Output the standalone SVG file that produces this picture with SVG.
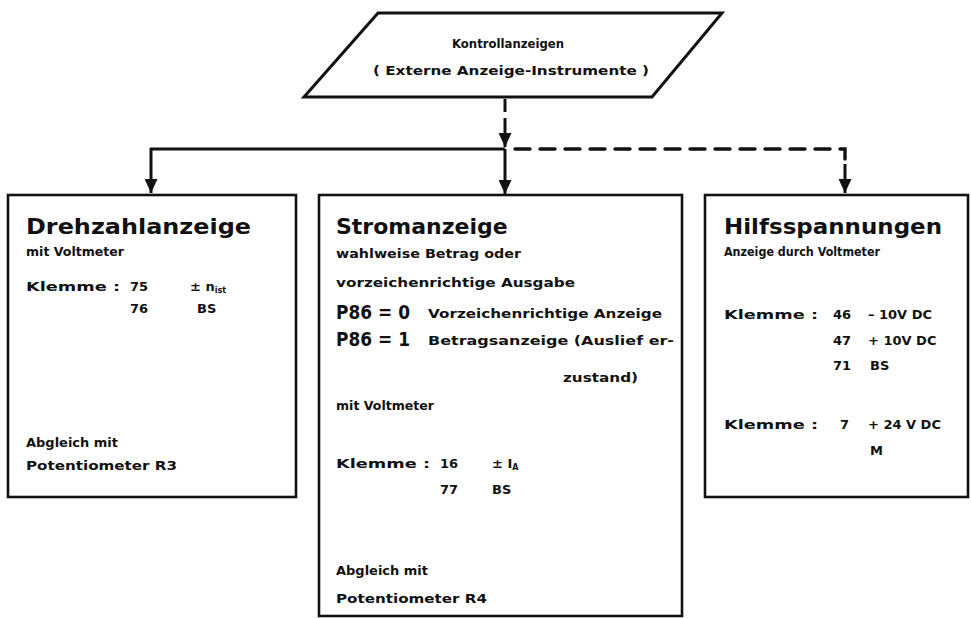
<svg xmlns="http://www.w3.org/2000/svg" width="971" height="618" viewBox="0 0 971 618">
  <style>
    .box { fill: #ffffff; stroke: #111; stroke-width: 2.6; }
    .wire { fill: none; stroke: #111; stroke-width: 3; }
    .dash { fill: none; stroke: #111; stroke-width: 3.4; stroke-dasharray: 15 10; stroke-linecap: round; }
    text { font-family: "DejaVu Sans", "Liberation Sans", sans-serif; font-weight: bold; fill: #111; }
    .t { font-size: 22px; }
    .s { font-size: 13px; }
    .k { font-size: 13px; }
    .p { font-size: 20px; }
    .sub { font-size: 8px; }
    .c { text-anchor: middle; }
  </style>
  <defs>
    <marker id="arr" markerWidth="14" markerHeight="13" refX="14" refY="6.5" orient="auto" markerUnits="userSpaceOnUse">
      <path d="M0,0 L14,6.5 L0,13 Z" fill="#111"/>
    </marker>
  </defs>
  <rect width="971" height="618" fill="#ffffff"/>

  <!-- connectors -->
  <g id="connectors">
    <line class="wire" x1="505" y1="99" x2="505" y2="112"/>
    <line class="wire" x1="505" y1="118" x2="505" y2="147" marker-end="url(#arr)"/>
    <line class="wire" x1="150" y1="149" x2="505" y2="149"/>
    <line class="wire" x1="151" y1="148" x2="151" y2="193" marker-end="url(#arr)"/>
    <line class="wire" x1="505" y1="149" x2="505" y2="194" marker-end="url(#arr)"/>
    <path class="dash" d="M515,149 H845 V160"/>
    <line class="wire" x1="845" y1="164" x2="845" y2="193" marker-end="url(#arr)"/>
  </g>

  <!-- source: parallelogram -->
  <g id="kontrollanzeigen">
    <polygon points="378,13 722,13 652,97 304,97" fill="#ffffff" stroke="#111" stroke-width="3"/>
    <text class="s c" x="508" y="48" textLength="112" lengthAdjust="spacingAndGlyphs">Kontrollanzeigen</text>
    <text class="s c" x="511" y="75" textLength="276" lengthAdjust="spacingAndGlyphs">( Externe Anzeige-Instrumente )</text>
  </g>

  <!-- speed display -->
  <g id="drehzahlanzeige">
    <rect class="box" x="8" y="195" width="288" height="302"/>
    <text class="t" x="26" y="234" textLength="225" lengthAdjust="spacingAndGlyphs">Drehzahlanzeige</text>
    <text class="s" x="26" y="256" textLength="98" lengthAdjust="spacingAndGlyphs">mit Voltmeter</text>
    <text class="k" x="26" y="291" textLength="94" lengthAdjust="spacingAndGlyphs">Klemme :</text>
    <text class="k" x="130" y="291">75</text>
    <text class="k" x="190" y="291">± n<tspan class="sub" dy="2">ist</tspan></text>
    <text class="k" x="130" y="313">76</text>
    <text class="k" x="197" y="313">BS</text>
    <text class="s" x="26" y="447" textLength="92" lengthAdjust="spacingAndGlyphs">Abgleich mit</text>
    <text class="s" x="26" y="470" textLength="151" lengthAdjust="spacingAndGlyphs">Potentiometer R3</text>
  </g>

  <!-- current display -->
  <g id="stromanzeige">
    <rect class="box" x="319" y="195" width="363" height="421"/>
    <text class="t" x="336" y="234">Stromanzeige</text>
    <text class="s" x="336" y="258" textLength="185" lengthAdjust="spacingAndGlyphs">wahlweise Betrag oder</text>
    <text class="s" x="336" y="287" textLength="239" lengthAdjust="spacingAndGlyphs">vorzeichenrichtige Ausgabe</text>
    <text class="p" x="336" y="319" textLength="74" lengthAdjust="spacingAndGlyphs">P86 = 0</text>
    <text class="s" x="428" y="318" textLength="234" lengthAdjust="spacingAndGlyphs">Vorzeichenrichtige Anzeige</text>
    <text class="p" x="336" y="346" textLength="74" lengthAdjust="spacingAndGlyphs">P86 = 1</text>
    <text class="s" x="428" y="345" textLength="246" lengthAdjust="spacingAndGlyphs">Betragsanzeige (Auslief er-</text>
    <text class="s" x="563" y="382" textLength="75" lengthAdjust="spacingAndGlyphs">zustand)</text>
    <text class="s" x="336" y="410" textLength="98" lengthAdjust="spacingAndGlyphs">mit Voltmeter</text>
    <text class="k" x="336" y="468" textLength="94" lengthAdjust="spacingAndGlyphs">Klemme :</text>
    <text class="k" x="440" y="468">16</text>
    <text class="k" x="492" y="468">± I<tspan class="sub" dy="2">A</tspan></text>
    <text class="k" x="440" y="494">77</text>
    <text class="k" x="492" y="494">BS</text>
    <text class="s" x="336" y="575" textLength="92" lengthAdjust="spacingAndGlyphs">Abgleich mit</text>
    <text class="s" x="336" y="603" textLength="151" lengthAdjust="spacingAndGlyphs">Potentiometer R4</text>
  </g>

  <!-- auxiliary voltages -->
  <g id="hilfsspannungen">
    <rect class="box" x="705" y="195" width="263" height="302"/>
    <text class="t" x="724" y="234" textLength="218" lengthAdjust="spacingAndGlyphs">Hilfsspannungen</text>
    <text class="s" x="724" y="256" textLength="156" lengthAdjust="spacingAndGlyphs">Anzeige durch Voltmeter</text>
    <text class="k" x="724" y="319" textLength="94" lengthAdjust="spacingAndGlyphs">Klemme :</text>
    <text class="k" x="833" y="319">46</text>
    <text class="k" x="868" y="319">– 10V DC</text>
    <text class="k" x="833" y="345">47</text>
    <text class="k" x="868" y="345">+ 10V DC</text>
    <text class="k" x="833" y="370">71</text>
    <text class="k" x="870" y="370">BS</text>
    <text class="k" x="724" y="429" textLength="94" lengthAdjust="spacingAndGlyphs">Klemme :</text>
    <text class="k" x="840" y="429">7</text>
    <text class="k" x="868" y="429">+ 24 V DC</text>
    <text class="k" x="870" y="455">M</text>
  </g>
</svg>
